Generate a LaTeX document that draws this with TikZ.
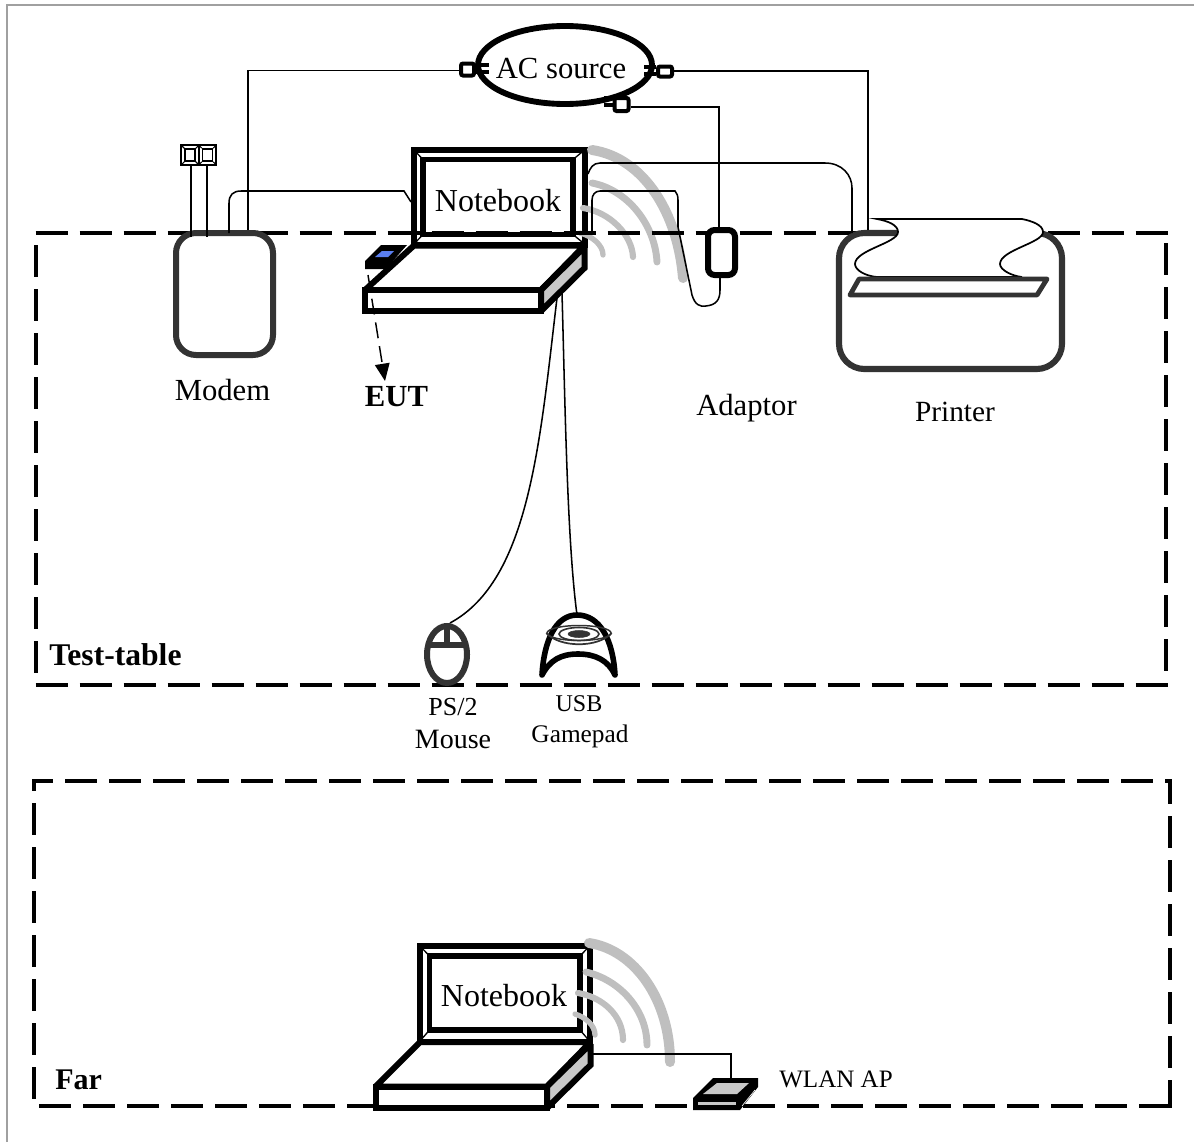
\documentclass[tikz,border=0pt]{standalone}
\usepackage{fontspec}
\setmainfont{Liberation Serif}
\usetikzlibrary{shapes.geometric,arrows.meta}
\newcommand{\fs}[1]{\fontsize{#1}{#1}\selectfont}
\newlength{\uu}\setlength{\uu}{0.75pt}
\definecolor{sidegray}{HTML}{C8C8C8}
\definecolor{wavegray}{HTML}{BFBFBF}
\definecolor{devgray}{HTML}{333333}
\definecolor{framegray}{HTML}{A0A0A0}
\definecolor{dongleblue}{HTML}{5B7FF0}
\tikzset{
  x=0.75pt,y=-0.75pt,
  tablebox/.style={draw=black,line width=3pt,dash pattern=on 24pt off 9pt,line join=miter,line cap=butt},
  wire/.style={draw=black,line width=1.15pt},
  frame/.style={draw=black,line width=4.5pt,fill=white,line join=miter,miter limit=2},
  framein/.style={draw=black,line width=4.3pt,line join=miter},
  miterline/.style={draw=black,line width=1pt},
  sideface/.style={draw=black,line width=4.5pt,fill=sidegray,line join=miter,miter limit=2},
  wave/.style={draw=wavegray,line cap=round},
  plug/.style={draw=black,line width=3pt,fill=white,rounded corners=1.5pt,inner sep=0pt},
  prong/.style={draw=black,line width=3pt},
  label/.style={inner sep=0pt,text=black},
}
\begin{document}
\begin{tikzpicture}
\useasboundingbox (0,0) rectangle (1194,1142);
\draw[draw=framegray,line width=1.6pt] (7,1142) -- (7,5) -- (1194,5);

% upper notebook screen
\path[frame] (414,150) rectangle (584.5,245);
\path[framein] (423,159.5) rectangle (573,234.5);
\draw[miterline] (414,150)--(423,159.5) (584.5,150)--(573,159.5) (423,234.5)--(414,244) (573,234.5)--(584.5,244);

% waves upper
\draw[wave,line width=7.5pt] (592,150) .. controls (645,158) and (678,215) .. (683,278);
\draw[wave,line width=5.2pt] (592,183) .. controls (628,190) and (655,225) .. (657,262);
\draw[wave,line width=4.6pt] (583,208) .. controls (610,212) and (632,235) .. (633,257);
\draw[wave,line width=4pt] (580,233) .. controls (592,236) and (603,245) .. (603,255);

% table boxes
\draw[tablebox] (35.5,233) -- (1167.5,233);
\draw[tablebox] (35.5,245) -- (35.5,680);
\draw[tablebox] (1166,243) -- (1166,685);
\draw[tablebox] (35.5,684.5) -- (1168,684.5);
\draw[tablebox,dash phase=8.25pt] (32,780.5) -- (1172,780.5);
\draw[tablebox,dash phase=15pt] (33.5,779) -- (33.5,1102);
\draw[tablebox,dash phase=5.25pt] (1170,779) -- (1170,1107.5);
\draw[tablebox] (39,1106) -- (1171.5,1106);

% devices as named nodes
\node[draw=devgray,line width=4.5pt,fill=white,rounded corners=15pt,minimum width=97\uu,minimum height=122\uu,inner sep=0pt] (modem) at (224.5,294) {};
\node[draw=black,line width=4.5pt,fill=white,rounded corners=5pt,minimum width=27\uu,minimum height=45\uu,inner sep=0pt] (adaptor) at (721.5,252.5) {};
\node[draw=devgray,line width=4.6pt,fill=white,rounded corners=19pt,minimum width=223\uu,minimum height=136\uu,inner sep=0pt] (printer) at (950.5,301) {};
\node[ellipse,draw=black,line width=4.4pt,fill=white,minimum width=174\uu,minimum height=78\uu,inner sep=0pt] (ac) at (565,65) {};
\node[label] (actext) at (561,68) {\fs{23}AC source};

% plugs
\node[plug,minimum width=13\uu,minimum height=12\uu] (plugl) at (467.5,69.5) {};
\node[plug,minimum width=14\uu,minimum height=10\uu] (plugr) at (665,71.5) {};
\node[plug,minimum width=14\uu,minimum height=13\uu] (plugb) at (621.5,104.5) {};
\draw[prong] (plugl.east |- 0,65) -- +(13,0) (plugl.east |- 0,71.5) -- +(13,0);
\draw[prong] (plugr.west |- 0,67) -- +(-12,0) (plugr.west |- 0,74) -- +(-12,0);
\draw[prong] (plugb.west |- 0,98) -- +(-9,0) (plugb.west |- 0,105) -- +(-9,0);

% phone jacks
\node[draw=black,line width=0.8pt,fill=white,minimum width=18\uu,minimum height=20\uu,inner sep=0pt] (jacka) at (190,155) {};
\node[draw=black,line width=0.8pt,fill=white,minimum width=17\uu,minimum height=20\uu,inner sep=0pt] (jackb) at (207.5,155) {};
\node[draw=black,line width=1.2pt,minimum width=10\uu,minimum height=12\uu,inner sep=0pt] (jackai) at (190,155) {};
\node[draw=black,line width=1.2pt,minimum width=10\uu,minimum height=12\uu,inner sep=0pt] (jackbi) at (207.5,155) {};
\draw[miterline,line width=0.8pt] (jacka.north west)--(jackai.north west) (jacka.north east)--(jackai.north east) (jacka.south west)--(jackai.south west) (jacka.south east)--(jackai.south east);
\draw[miterline,line width=0.8pt] (jackb.north west)--(jackbi.north west) (jackb.north east)--(jackbi.north east) (jackb.south west)--(jackbi.south west) (jackb.south east)--(jackbi.south east);
\coordinate (jackaend) at (191,237);
\coordinate (jackbend) at (207,237);
\draw[wire] (jacka.south -| jackaend) -- (jackaend);
\draw[wire] (jackb.south -| jackbend) -- (jackbend);

% power wires
\coordinate (acl) at (248,70.5);
\coordinate (acr) at (868,71);
\coordinate (acb) at (719,107);
\draw[wire] (plugl.west |- acl) -- (acl) -- (acl |- modem.north);
\draw[wire] (plugr.east |- acr) -- (acr) -- (acr |- printer.north);
\draw[wire] (plugb.east |- acb) -- (acb) -- (acb |- adaptor.north);

% modem to notebook
\coordinate (modemup) at (229,233);
\coordinate (nbleft) at (411,202);
\draw[wire] (modemup) -- (229,203) .. controls (229,195) and (233,191) .. (241,191) -- (404,191) -- (nbleft);

% notebook to printer
\coordinate (nbright) at (588,174);
\coordinate (prnup) at (852,233);
\draw[wire] (nbright) .. controls (590,168) and (593,163) .. (600,163) -- (825,163) .. controls (842,163) and (852,175) .. (852,188) -- (prnup);

% adaptor to notebook
\coordinate (nbadapt) at (592,234);
\coordinate (adin) at (720,276);
\draw[wire] (nbadapt) -- (592,200) .. controls (592,195) and (595,191) .. (600,191) -- (675,191) .. controls (677,193) and (678,196) .. (678,200) -- (678,227) -- (692,295) .. controls (695,305) and (700,307) .. (706,306) .. controls (716,305) and (720,300) .. (720,290) -- (adin);

% printer parts
\draw[draw=black,line width=1.3pt,fill=white] (877,219) -- (1022,219) .. controls (1032,221) and (1043,225) .. (1043,232) .. controls (1043,243) and (1000,250) .. (1000,264) .. controls (1000,270) and (1012,276) .. (1022,277) -- (877,277) .. controls (865,276) and (855,270) .. (855,264) .. controls (855,250) and (898,243) .. (898,232) .. controls (898,225) and (888,221) .. (877,219) -- cycle;
\draw[draw=devgray,line width=3.6pt,line join=round,fill=white] (859,279) -- (1047,279) -- (1037,295) -- (850,295) -- cycle;

% upper notebook base
\path[frame] (414,245.5) -- (584.5,245.5) -- (541,290) -- (365,290) -- cycle;
\path[frame] (365,290) rectangle (541,311);
\path[sideface] (541,290) -- (584.5,247) -- (584.5,268) -- (541,311) -- cycle;
\node[label] (nb1) at (498,201) {\fs{24}Notebook};

% dongle
\coordinate (dongle) at (368,275);
\coordinate (eutarrow) at (385,381);
\fill[black] (365,261) -- (381,245) -- (407,245) -- (391,263) -- (388,269) -- (365,269) -- cycle;
\fill[dongleblue] (375,257) -- (382,251) -- (394,251) -- (388,257) -- cycle;

% labels
\node[label] (lmodem) at (222.5,390) {\fs{23}Modem};
\node[label] (leut) at (396.5,397) {\fs{23}\textbf{EUT}};
\node[label] (ladaptor) at (746.5,408) {\fs{23}Adaptor};
\node[label] (lprinter) at (955,412) {\fs{22}Printer};
\node[label,anchor=west] (ltest) at (49,655) {\fs{23.7}\textbf{Test-table}};
\node[label,anchor=west] (lfar) at (55,1080) {\fs{22.5}\textbf{Far}};
\node[label] (lps) at (453,707) {\fs{19.5}PS/2};
\node[label] (lmouse) at (453,739) {\fs{21}Mouse};
\node[label] (lusb) at (579,704) {\fs{18}USB};
\node[label] (lgame) at (580,736) {\fs{19}Gamepad};
\node[label,anchor=west] (lwlan) at (779,1079) {\fs{18.8}WLAN AP};

% EUT arrow
\draw[draw=black,line width=1.1pt,dash pattern=on 12pt off 6pt,-{Stealth[length=13pt,width=11pt,inset=0pt]}] (dongle) -- (eutarrow);

% mouse
\node[ellipse,draw=devgray,line width=4.5pt,fill=white,minimum width=40\uu,minimum height=57\uu,inner sep=0pt] (mouse) at (447,654.5) {};
\draw[draw=devgray,line width=4.5pt] (mouse.north) -- (447,645) (428,645) -- (466,645);

% gamepad
\coordinate (padtop) at (577,615);
\draw[draw=black,line width=4.2pt,line join=round,line cap=round,fill=white] (542,675) .. controls (544,640) and (556,615) .. (padtop) .. controls (600,615) and (613,640) .. (615,675) .. controls (608,660) and (595,654) .. (578,654) .. controls (561,654) and (550,660) .. (542,675) -- cycle;
\node[ellipse,draw=devgray,line width=1.1pt,minimum width=64\uu,minimum height=15\uu,inner sep=0pt] (pad1) at (579,633) {};
\node[ellipse,draw=devgray,line width=1.2pt,minimum width=40\uu,minimum height=13\uu,inner sep=0pt] (pad2) at (579,634) {};
\node[ellipse,draw=devgray,fill=devgray,minimum width=22\uu,minimum height=7\uu,inner sep=0pt] (pad3) at (579,634) {};
\draw[draw=devgray,line width=1.3pt] (pad1.west) .. controls (560,648) and (598,648) .. (pad1.east);

% cables to mouse and gamepad
\coordinate (mcable) at (557,298);
\coordinate (mcend) at (450,623);
\coordinate (gcable) at (562,293);
\draw[wire] (mcable) .. controls (540,440) and (530,580) .. (mcend);
\draw[wire] (gcable) .. controls (565,400) and (567,540) .. (padtop);

% far notebook
\path[frame] (420,946) rectangle (589.5,1042);
\path[framein] (429.5,956) rectangle (580,1030);
\draw[miterline] (420,946)--(429.5,956) (589.5,946)--(580,956) (429.5,1030)--(420,1041) (580,1030)--(589.5,1041);
\draw[wave,line width=7.5pt] (589,943) .. controls (635,950) and (670,1000) .. (670,1062);
\draw[wave,line width=5.2pt] (586,972) .. controls (620,980) and (647,1010) .. (647,1045);
\draw[wave,line width=4.6pt] (578,993) .. controls (602,997) and (623,1015) .. (623,1040);
\draw[wave,line width=4pt] (575,1014) .. controls (585,1017) and (595,1025) .. (595,1035);
\path[frame] (420,1042) -- (590.5,1042) -- (547,1086.5) -- (375.5,1086.5) -- cycle;
\path[frame] (375.5,1086.5) rectangle (547,1108);
\path[sideface] (547,1086.5) -- (590.5,1044) -- (590.5,1065) -- (547,1108) -- cycle;
\node[label] (nb2) at (504,996) {\fs{24}Notebook};

% far AP
\fill[black] (693,1098) -- (713,1078) -- (758,1078) -- (758,1087) -- (740,1110) -- (693,1110) -- cycle;
\fill[sidegray] (703,1094) -- (717,1083) -- (749,1083) -- (737,1094) -- cycle;
\fill[sidegray] (698,1102) -- (736,1102) -- (736,1105) -- (698,1105) -- cycle;
\draw[draw=white,line width=0.5pt] (742,1106) -- (755,1090);
\coordinate (apturn) at (731,1054);
\coordinate (apin) at (731,1078);
\coordinate (farout) at (592,1054);
\draw[wire] (farout) -- (apturn) -- (apin);
\end{tikzpicture}
\end{document}
